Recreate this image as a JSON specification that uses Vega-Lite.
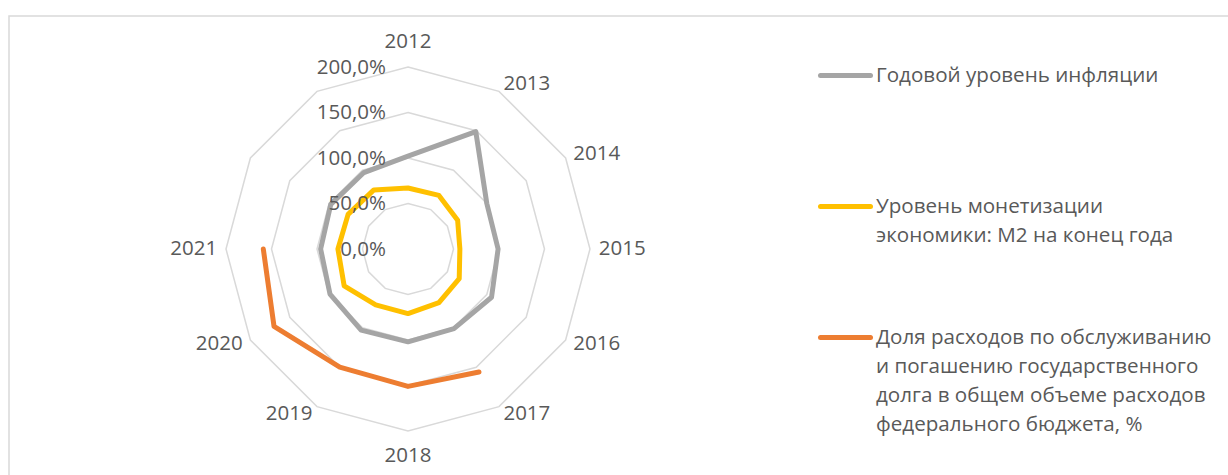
{
  "$schema": "https://vega.github.io/schema/vega-lite/v6.json",
  "width": 1230,
  "height": 470,
  "autosize": {"type": "none"},
  "padding": {"left": 9, "top": 16, "right": 0, "bottom": 0},
  "config": {
    "view": {"stroke": "#d9d9d9", "strokeWidth": 1.5},
    "font": "Open Sans",
    "locale": {"number": {"decimal": ",", "thousands": " ", "grouping": [3], "currency": ["", ""]}}
  },
  "datasets": {
    "main": [
      {"series": "Годовой уровень инфляции", "year": 2012, "value": 1.02},
      {"series": "Годовой уровень инфляции", "year": 2013, "value": 1.49},
      {"series": "Годовой уровень инфляции", "year": 2014, "value": 1.0},
      {"series": "Годовой уровень инфляции", "year": 2015, "value": 0.99},
      {"series": "Годовой уровень инфляции", "year": 2016, "value": 1.06},
      {"series": "Годовой уровень инфляции", "year": 2017, "value": 1.01},
      {"series": "Годовой уровень инфляции", "year": 2018, "value": 1.02},
      {"series": "Годовой уровень инфляции", "year": 2019, "value": 1.03},
      {"series": "Годовой уровень инфляции", "year": 2020, "value": 0.99},
      {"series": "Годовой уровень инфляции", "year": 2021, "value": 0.96},
      {"series": "Годовой уровень инфляции", "year": 2022, "value": 0.98},
      {"series": "Годовой уровень инфляции", "year": 2023, "value": 0.97},
      {"series": "Уровень монетизации экономики: M2 на конец года", "year": 2012, "value": 0.67},
      {"series": "Уровень монетизации экономики: M2 на конец года", "year": 2013, "value": 0.68},
      {"series": "Уровень монетизации экономики: M2 на конец года", "year": 2014, "value": 0.63},
      {"series": "Уровень монетизации экономики: M2 на конец года", "year": 2015, "value": 0.57},
      {"series": "Уровень монетизации экономики: M2 на конец года", "year": 2016, "value": 0.65},
      {"series": "Уровень монетизации экономики: M2 на конец года", "year": 2017, "value": 0.68},
      {"series": "Уровень монетизации экономики: M2 на конец года", "year": 2018, "value": 0.71},
      {"series": "Уровень монетизации экономики: M2 на конец года", "year": 2019, "value": 0.71},
      {"series": "Уровень монетизации экономики: M2 на конец года", "year": 2020, "value": 0.81},
      {"series": "Уровень монетизации экономики: M2 на конец года", "year": 2021, "value": 0.77},
      {"series": "Уровень монетизации экономики: M2 на конец года", "year": 2022, "value": 0.76},
      {"series": "Уровень монетизации экономики: M2 на конец года", "year": 2023, "value": 0.75},
      {"series": "Доля расходов по обслуживанию и погашению государственного долга в общем объеме расходов федерального бюджета, %", "year": 2017, "value": 1.56},
      {"series": "Доля расходов по обслуживанию и погашению государственного долга в общем объеме расходов федерального бюджета, %", "year": 2018, "value": 1.51},
      {"series": "Доля расходов по обслуживанию и погашению государственного долга в общем объеме расходов федерального бюджета, %", "year": 2019, "value": 1.5},
      {"series": "Доля расходов по обслуживанию и погашению государственного долга в общем объеме расходов федерального бюджета, %", "year": 2020, "value": 1.7},
      {"series": "Доля расходов по обслуживанию и погашению государственного долга в общем объеме расходов федерального бюджета, %", "year": 2021, "value": 1.59}
    ],
    "rings": [
      {"ring": 0, "years": [2012, 2013, 2014, 2015, 2016, 2017, 2018, 2019, 2020, 2021, 2022, 2023]},
      {"ring": 0.5, "years": [2012, 2013, 2014, 2015, 2016, 2017, 2018, 2019, 2020, 2021, 2022, 2023]},
      {"ring": 1, "years": [2012, 2013, 2014, 2015, 2016, 2017, 2018, 2019, 2020, 2021, 2022, 2023]},
      {"ring": 1.5, "years": [2012, 2013, 2014, 2015, 2016, 2017, 2018, 2019, 2020, 2021, 2022, 2023]},
      {"ring": 2, "years": [2012, 2013, 2014, 2015, 2016, 2017, 2018, 2019, 2020, 2021, 2022, 2023]}
    ],
    "labels": [
      {"year": 2012}, {"year": 2013}, {"year": 2014}, {"year": 2015}, {"year": 2016},
      {"year": 2017}, {"year": 2018}, {"year": 2019}, {"year": 2020}, {"year": 2021}
    ]
  },
  "layer": [
    {
      "data": {"name": "rings"},
      "transform": [
        {"filter": "datum.ring > 0"},
        {"flatten": ["years"]},
        {"calculate": "(datum.years - 2012) * PI / 6", "as": "ang"},
        {"calculate": "datum.ring * sin(datum.ang)", "as": "px"},
        {"calculate": "datum.ring * cos(datum.ang)", "as": "py"}
      ],
      "mark": {"type": "line", "interpolate": "linear-closed", "stroke": "#d9d9d9", "strokeWidth": 1.5},
      "encoding": {
        "x": {"field": "px", "type": "quantitative", "scale": {"domain": [-4.3846, 9.1319], "zero": false, "nice": false}, "axis": null},
        "y": {"field": "py", "type": "quantitative", "scale": {"domain": [-2.6044, 2.5604], "zero": false, "nice": false}, "axis": null},
        "detail": {"field": "ring"},
        "order": {"field": "years", "type": "quantitative"}
      }
    },
    {
      "data": {"name": "main"},
      "transform": [
        {"filter": "datum.series != 'Доля расходов по обслуживанию и погашению государственного долга в общем объеме расходов федерального бюджета, %'"},
        {"calculate": "(datum.year - 2012) * PI / 6", "as": "ang"},
        {"calculate": "datum.value * sin(datum.ang)", "as": "px"},
        {"calculate": "datum.value * cos(datum.ang)", "as": "py"}
      ],
      "mark": {"type": "line", "interpolate": "linear-closed", "strokeWidth": 5, "strokeJoin": "round", "strokeCap": "round"},
      "encoding": {
        "x": {"field": "px", "type": "quantitative", "scale": {"domain": [-4.3846, 9.1319], "zero": false, "nice": false}, "axis": null},
        "y": {"field": "py", "type": "quantitative", "scale": {"domain": [-2.6044, 2.5604], "zero": false, "nice": false}, "axis": null},
        "color": {
          "field": "series",
          "type": "nominal",
          "scale": {
            "domain": ["Годовой уровень инфляции", "Уровень монетизации экономики: M2 на конец года", "Доля расходов по обслуживанию и погашению государственного долга в общем объеме расходов федерального бюджета, %"],
            "range": ["#a5a5a5", "#ffc000", "#ed7d31"]
          },
          "legend": {
            "orient": "none",
            "legendX": 809,
            "legendY": 32,
            "title": null,
            "padding": 0,
            "symbolType": "stroke",
            "symbolSize": 2500,
            "symbolStrokeWidth": 5,
            "labelFontSize": 20.6,
            "labelColor": "#595959",
            "labelOffset": 3,
            "labelLimit": 500,
            "rowPadding": 63,
            "labelExpr": "datum.label == 'Уровень монетизации экономики: M2 на конец года' ? ['Уровень монетизации', 'экономики: M2 на конец года'] : (datum.label == 'Годовой уровень инфляции' ? ['Годовой уровень инфляции', ''] : ['Доля расходов по обслуживанию', 'и погашению государственного', 'долга в общем объеме расходов', 'федерального бюджета, %'])",
            "labelBaseline": "top",
            "encode": {"labels": {"update": {"lineHeight": {"value": 29}, "dy": {"value": -10}}}, "symbols": {"update": {"strokeCap": {"value": "round"}}}}
          }
        },
        "detail": {"field": "series"},
        "order": {"field": "year", "type": "quantitative"}
      }
    },
    {
      "data": {"name": "main"},
      "transform": [
        {"filter": "datum.series == 'Доля расходов по обслуживанию и погашению государственного долга в общем объеме расходов федерального бюджета, %'"},
        {"calculate": "(datum.year - 2012) * PI / 6", "as": "ang"},
        {"calculate": "datum.value * sin(datum.ang)", "as": "px"},
        {"calculate": "datum.value * cos(datum.ang)", "as": "py"}
      ],
      "mark": {"type": "line", "strokeWidth": 5, "strokeJoin": "round", "strokeCap": "round"},
      "encoding": {
        "x": {"field": "px", "type": "quantitative", "scale": {"domain": [-4.3846, 9.1319], "zero": false, "nice": false}, "axis": null},
        "y": {"field": "py", "type": "quantitative", "scale": {"domain": [-2.6044, 2.5604], "zero": false, "nice": false}, "axis": null},
        "color": {"field": "series", "type": "nominal"},
        "order": {"field": "year", "type": "quantitative"}
      }
    },
    {
      "data": {"name": "rings"},
      "transform": [{"calculate": "0", "as": "px"}],
      "mark": {"type": "text", "align": "right", "baseline": "middle", "dx": -22, "dy": 1, "fontSize": 20.5, "color": "#595959"},
      "encoding": {
        "x": {"field": "px", "type": "quantitative", "scale": {"domain": [-4.3846, 9.1319], "zero": false, "nice": false}, "axis": null},
        "y": {"field": "ring", "type": "quantitative", "scale": {"domain": [-2.6044, 2.5604], "zero": false, "nice": false}, "axis": null},
        "text": {"field": "ring", "type": "quantitative", "format": ".1%"}
      }
    },
    {
      "data": {"name": "labels"},
      "transform": [
        {"filter": "datum.year == 2012 || datum.year == 2018"},
        {"calculate": "(datum.year - 2012) * PI / 6", "as": "ang"},
        {"calculate": "2.27 * sin(datum.ang)", "as": "px"},
        {"calculate": "2.27 * cos(datum.ang)", "as": "py"}
      ],
      "mark": {"type": "text", "align": "center", "baseline": "middle", "fontSize": 20.5, "color": "#595959"},
      "encoding": {
        "x": {"field": "px", "type": "quantitative", "scale": {"domain": [-4.3846, 9.1319], "zero": false, "nice": false}, "axis": null},
        "y": {"field": "py", "type": "quantitative", "scale": {"domain": [-2.6044, 2.5604], "zero": false, "nice": false}, "axis": null},
        "text": {"field": "year", "type": "nominal"}
      }
    },
    {
      "data": {"name": "labels"},
      "transform": [
        {"filter": "datum.year > 2012 && datum.year < 2018"},
        {"calculate": "(datum.year - 2012) * PI / 6", "as": "ang"},
        {"calculate": "2.097 * sin(datum.ang)", "as": "px"},
        {"calculate": "2.097 * cos(datum.ang)", "as": "py"}
      ],
      "mark": {"type": "text", "align": "left", "baseline": "middle", "fontSize": 20.5, "color": "#595959"},
      "encoding": {
        "x": {"field": "px", "type": "quantitative", "scale": {"domain": [-4.3846, 9.1319], "zero": false, "nice": false}, "axis": null},
        "y": {"field": "py", "type": "quantitative", "scale": {"domain": [-2.6044, 2.5604], "zero": false, "nice": false}, "axis": null},
        "text": {"field": "year", "type": "nominal"}
      }
    },
    {
      "data": {"name": "labels"},
      "transform": [
        {"filter": "datum.year > 2018"},
        {"calculate": "(datum.year - 2012) * PI / 6", "as": "ang"},
        {"calculate": "2.097 * sin(datum.ang)", "as": "px"},
        {"calculate": "2.097 * cos(datum.ang)", "as": "py"}
      ],
      "mark": {"type": "text", "align": "right", "baseline": "middle", "fontSize": 20.5, "color": "#595959"},
      "encoding": {
        "x": {"field": "px", "type": "quantitative", "scale": {"domain": [-4.3846, 9.1319], "zero": false, "nice": false}, "axis": null},
        "y": {"field": "py", "type": "quantitative", "scale": {"domain": [-2.6044, 2.5604], "zero": false, "nice": false}, "axis": null},
        "text": {"field": "year", "type": "nominal"}
      }
    }
  ]
}
